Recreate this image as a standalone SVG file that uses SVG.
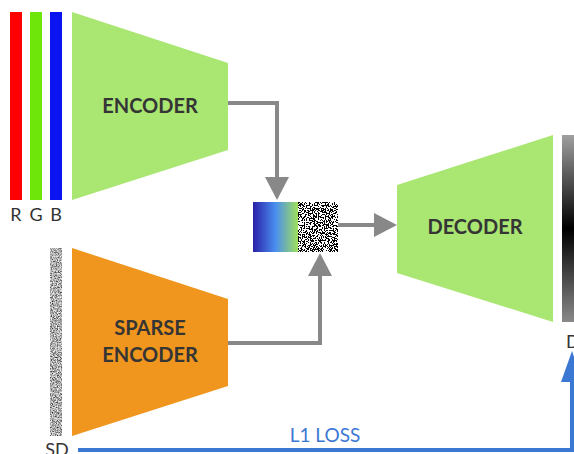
<svg xmlns="http://www.w3.org/2000/svg" width="574" height="454" viewBox="0 0 574 454">
<style>
.green{fill:#a9e672}
.orange{fill:#f0961e}
.lbl{font-family:Lato,"Noto Sans",sans-serif;font-weight:700;font-size:20px;fill:#353535;text-anchor:middle}
.io{font-family:Lato,"Noto Sans",sans-serif;font-size:18px;fill:#333;text-anchor:middle}
.conn{fill:none;stroke:#888;stroke-width:4}
.blue{fill:none;stroke:#3b78d4;stroke-width:4}
</style>
<defs>
<linearGradient id="latGrad" x1="0" y1="0" x2="1" y2="0">
<stop offset="0" stop-color="#2a1fa8"/>
<stop offset="0.5" stop-color="#4a8ff0"/>
<stop offset="1" stop-color="#9fe05a"/>
</linearGradient>
<linearGradient id="depthGrad" x1="0" y1="0" x2="0" y2="1">
<stop offset="0" stop-color="#a0a0a0"/>
<stop offset="0.5" stop-color="#000"/>
<stop offset="1" stop-color="#8a8a8a"/>
</linearGradient>
<filter id="noiseBW" x="0" y="0" width="1" height="1" filterUnits="objectBoundingBox" color-interpolation-filters="sRGB">
<feTurbulence type="fractalNoise" baseFrequency="0.75" numOctaves="2" seed="3"/>
<feColorMatrix type="matrix" values="1 0 0 0 0  1 0 0 0 0  1 0 0 0 0  0 0 0 0 1"/>
<feComponentTransfer>
<feFuncR type="discrete" tableValues="0 0 0 0 0 1 1 1 1 1"/>
<feFuncG type="discrete" tableValues="0 0 0 0 0 1 1 1 1 1"/>
<feFuncB type="discrete" tableValues="0 0 0 0 0 1 1 1 1 1"/>
</feComponentTransfer>
</filter>
<filter id="noiseGray" x="0" y="0" width="1" height="1" filterUnits="objectBoundingBox" color-interpolation-filters="sRGB">
<feTurbulence type="fractalNoise" baseFrequency="0.8" numOctaves="2" seed="7"/>
<feColorMatrix type="matrix" values="1 0 0 0 0  1 0 0 0 0  1 0 0 0 0  0 0 0 0 1"/>
<feComponentTransfer>
<feFuncR type="discrete" tableValues="0.05 0.15 0.3 0.45 0.6 0.75 0.88 0.95 1 1"/>
<feFuncG type="discrete" tableValues="0.05 0.15 0.3 0.45 0.6 0.75 0.88 0.95 1 1"/>
<feFuncB type="discrete" tableValues="0.05 0.15 0.3 0.45 0.6 0.75 0.88 0.95 1 1"/>
</feComponentTransfer>
</filter>
<marker id="arrGray" markerUnits="userSpaceOnUse" markerWidth="23" markerHeight="24" refX="0" refY="12" orient="auto">
<path d="M0,0 L23,12 L0,24 Z" fill="#888"/>
</marker>
<marker id="arrBlue" markerUnits="userSpaceOnUse" markerWidth="31" markerHeight="22" refX="0" refY="11" orient="auto">
<path d="M0,0 L31,11 L0,22 Z" fill="#3b78d4"/>
</marker>
</defs>

<g id="rgb-input">
<rect x="10" y="12" width="12" height="188" fill="#ff0000"/>
<rect x="30" y="12" width="12" height="188" fill="#6ee60a"/>
<rect x="50" y="12" width="12" height="188" fill="#0a14f0"/>
<text class="io" x="16" y="221">R</text>
<text class="io" x="36" y="221">G</text>
<text class="io" x="56" y="221">B</text>
</g>

<g id="encoder">
<polygon class="green" points="72,12 228,63 228,150 72,200"/>
<text class="lbl" x="150" y="113">ENCODER</text>
</g>

<g id="sparse-depth">
<rect x="50" y="248" width="12" height="188" fill="#888" filter="url(#noiseGray)"/>
<text class="io" x="57" y="456">SD</text>
</g>

<g id="sparse-encoder">
<polygon class="orange" points="72,248 228,299 228,386 72,436"/>
<text class="lbl" x="150" y="335">SPARSE</text>
<text class="lbl" x="150" y="362">ENCODER</text>
</g>

<g id="latent">
<rect x="253" y="202" width="45" height="50" fill="url(#latGrad)"/>
<rect x="298" y="202" width="40" height="50" fill="#888" filter="url(#noiseBW)"/>
</g>

<g id="decoder">
<polygon class="green" points="397,185 553,135 553,322 397,273"/>
<text class="lbl" x="475" y="234">DECODER</text>
</g>

<g id="depth-output">
<rect x="562" y="135" width="14" height="187" fill="url(#depthGrad)"/>
<text class="io" x="566" y="348" style="text-anchor:start">D</text>
</g>

<g id="connectors">
<path class="conn" d="M228,103 H277 V177" marker-end="url(#arrGray)"/>
<path class="conn" d="M228,343 H320 V276" marker-end="url(#arrGray)"/>
<path class="conn" d="M338,225 H374" marker-end="url(#arrGray)"/>
<path class="blue" d="M78,450 H572 V382" marker-end="url(#arrBlue)"/>
<text x="325" y="442" style="font-family:Lato,'Noto Sans',sans-serif;font-size:19px;fill:#3b78d4;text-anchor:middle">L1 LOSS</text>
</g>
</svg>
